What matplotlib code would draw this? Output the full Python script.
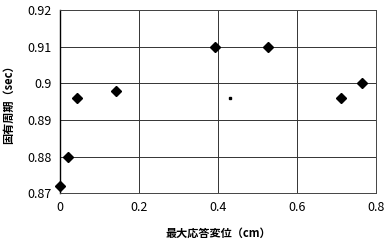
import matplotlib
matplotlib.use("Agg")
import matplotlib.pyplot as plt

plt.rcParams['font.family'] = ['Noto Sans CJK JP', 'DejaVu Sans']

# data
disp = [0.0, 0.02, 0.043, 0.142, 0.392, 0.527, 0.711, 0.765]
period = [0.872, 0.880, 0.896, 0.898, 0.910, 0.910, 0.896, 0.900]
small_disp = [0.43]
small_period = [0.896]

xticks = [0, 0.2, 0.4, 0.6, 0.8]
xticklabels = ['0', '0.2', '0.4', '0.6', '0.8']
yticks = [0.87, 0.88, 0.89, 0.9, 0.91, 0.92]
yticklabels = ['0.87', '0.88', '0.89', '0.9', '0.91', '0.92']

fig = plt.figure(figsize=(3.92, 2.46), dpi=100)
ax = fig.add_axes([0.153, 0.215, 0.806, 0.744])

ax.plot(disp, period, linestyle='none', marker='D', markersize=4.6, color='black', clip_on=False, zorder=3)
ax.plot(small_disp, small_period, linestyle='none', marker='s', markersize=1.5, color='black', zorder=3)

ax.set_xlim(0, 0.8)
ax.set_ylim(0.87, 0.92)
ax.set_xticks(xticks)
ax.set_xticklabels(xticklabels)
ax.set_yticks(yticks)
ax.set_yticklabels(yticklabels)
ax.grid(True, color='#333333', linewidth=0.7)
ax.set_axisbelow(True)
ax.tick_params(length=0, labelsize=9, pad=6)
for s in ax.spines.values():
    s.set_color('#444444')
    s.set_linewidth(0.7)
ax.spines['left'].set_color('black')
ax.spines['left'].set_linewidth(1.0)

ax.set_xlabel('最大応答変位（cm）', fontsize=8, fontweight='bold', labelpad=9)
ax.set_ylabel('固有周期（sec）', fontsize=8, fontweight='bold', labelpad=9)

fig.savefig('out.png', dpi=100)
